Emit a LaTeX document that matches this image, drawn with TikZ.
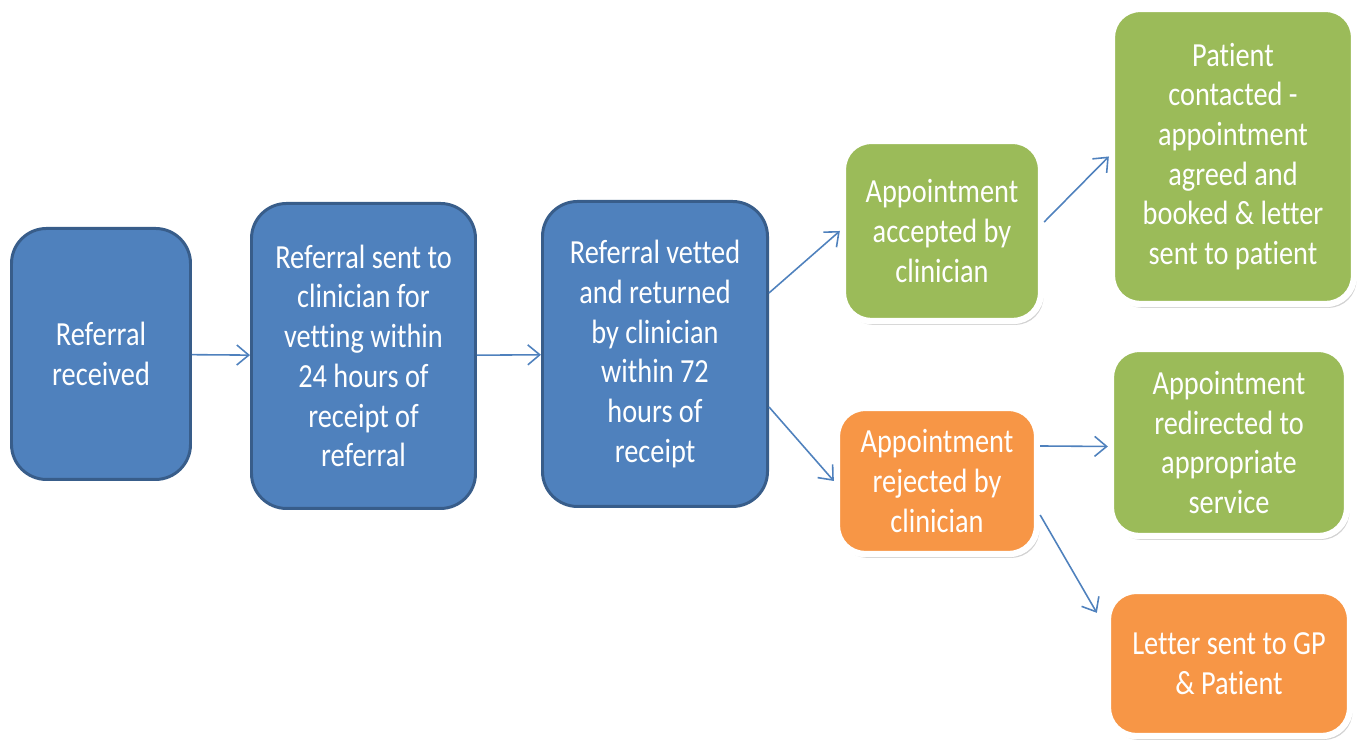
\documentclass[tikz,border=0pt]{standalone}
\usepackage{fontspec}
\setmainfont[FakeStretch=0.84,Ligatures=NoCommon]{Carlito}
\usetikzlibrary{arrows.meta,shadows,positioning}
\definecolor{procblue}{HTML}{4F81BD}
\definecolor{procedge}{HTML}{385D8A}
\definecolor{procgreen}{HTML}{9BBB59}
\definecolor{procorange}{HTML}{F79646}
\tikzset{
  basic/.style  = {rounded corners=0.35cm, align=center, text=white, inner sep=2pt, font=\fontsize{9.6}{11.3}\selectfont},
  blueproc/.style = {basic, fill=procblue, draw=procedge, line width=0.85pt},
  greenproc/.style = {basic, rounded corners=0.28cm, fill=procgreen, draw=white, line width=1.8pt,
    drop shadow={shadow xshift=0.7pt, shadow yshift=-1.1pt, opacity=0.35}},
  orangeproc/.style = {greenproc, fill=procorange},
  flow/.style = {draw=procblue, line width=0.45pt, -{Straight Barb[length=1.2mm,width=2mm]}}
}

\begin{document}
\begin{tikzpicture}
\useasboundingbox (0,0) rectangle (13.62,7.43);

% the referral steps, left to right
\node[blueproc, minimum width=1.79cm, minimum height=2.51cm] (rec) at (1.01,3.89) {Referral\\received};
\node[blueproc, minimum width=2.24cm, minimum height=3.05cm] (sent) at (3.635,3.87)
  {Referral sent to\\clinician for\\vetting within\\24 hours of\\receipt of\\referral};
\node[blueproc, minimum width=2.25cm, minimum height=3.05cm] (vet) at (6.55,3.89)
  {Referral vetted\\and returned\\by clinician\\within 72\\hours of\\receipt};

% outcome of the vetting
\node[greenproc, minimum width=1.98cm, minimum height=1.80cm] (acc) at (9.42,5.12) {Appointment\\accepted by\\clinician};
\node[orangeproc, minimum width=2.00cm, minimum height=1.46cm] (rej) at (9.37,2.62) {Appointment\\rejected by\\clinician};

% what follows
\node[greenproc, minimum width=2.42cm, minimum height=2.95cm] (pat) at (12.33,5.865)
  {Patient\\contacted -\\appointment\\agreed and\\booked \& letter\\sent to patient};
\node[greenproc, minimum width=2.36cm, minimum height=1.87cm] (red) at (12.29,3.005)
  {Appointment\\redirected to\\appropriate\\service};
\node[orangeproc, minimum width=2.42cm, minimum height=1.45cm] (let) at (12.29,0.795)
  {Letter sent to GP\\\& Patient};

% connectors
\draw[flow] (rec) -- (sent);
\draw[flow] (sent) -- (vet);
\draw[flow] ([yshift=0.61cm]vet.east) -- (acc.west);
\draw[flow] ([yshift=-0.53cm]vet.east) -- (rej.west);
\draw[flow] ([yshift=0.09cm]acc.east) -- (pat.west);
\draw[flow] ([yshift=0.35cm]rej.east) -- ([yshift=-0.04cm]red.west);
\draw[flow] ([yshift=-0.34cm]rej.east) -- ([xshift=-0.08cm,yshift=-0.25cm]let.north west);

\end{tikzpicture}
\end{document}
